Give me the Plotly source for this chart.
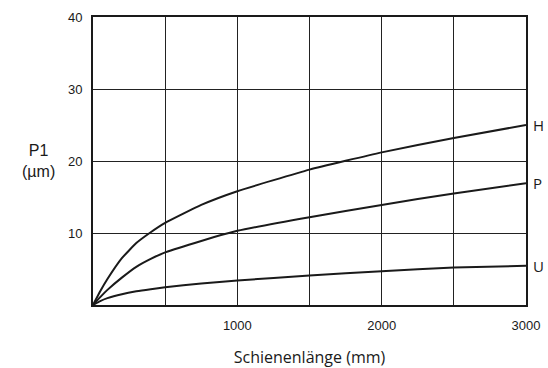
import plotly.graph_objects as go

x_mm = [0, 50, 100, 200, 300, 400, 500, 750, 1000, 1500, 2000, 2500, 3000]
h_vals = [0, 1.9, 3.6, 6.5, 8.6, 10.1, 11.4, 13.9, 15.8, 18.8, 21.2, 23.2, 25.0]
p_vals = [0, 1.1, 2.1, 3.8, 5.3, 6.4, 7.3, 8.9, 10.3, 12.2, 13.9, 15.5, 16.9]
u_vals = [0, 0.55, 0.95, 1.5, 1.9, 2.2, 2.46, 3.0, 3.4, 4.1, 4.7, 5.2, 5.45]
series_names = ["H", "P", "U"]

x_grid = [500, 1000, 1500, 2000, 2500, 3000]
x_ticktext = ["", "1000", "", "2000", "", "3000"]
y_grid = [10, 20, 30, 40]
y_ticktext = ["10", "20", "30", "40"]

line_col = "#1a1a1a"
fig = go.Figure()
for name, vals in zip(series_names, [h_vals, p_vals, u_vals]):
    fig.add_trace(go.Scatter(x=x_mm, y=vals, mode="lines", name=name,
                             line=dict(color=line_col, width=2, shape="spline", smoothing=0.4),
                             showlegend=False, hoverinfo="skip"))
    fig.add_annotation(x=x_mm[-1], y=vals[-1], text=name, showarrow=False,
                       xanchor="left", xshift=5, yanchor="middle",
                       font=dict(family="Open Sans, Liberation Sans, sans-serif", size=15, color="#1a1a1a"))

fig.add_annotation(xref="paper", yref="paper", x=-0.125, y=0.5, text="P1<br>(µm)",
                   showarrow=False, xanchor="center", yanchor="middle",
                   font=dict(family="Liberation Sans, Arial, sans-serif", size=16, color="#1a1a1a"))

fig.update_layout(
    width=548, height=368,
    margin=dict(l=93, r=22, t=17, b=63),
    paper_bgcolor="white", plot_bgcolor="white",
    font=dict(family="Liberation Sans, Arial, sans-serif", size=13, color="#1a1a1a"),
    xaxis=dict(range=[0, 3000], tickvals=x_grid, ticktext=x_ticktext, ticks="",
               showgrid=True, gridcolor="#222222", gridwidth=1, zeroline=False,
               showline=True, linecolor="#1a1a1a", linewidth=2, mirror=True,
               ticklabelstandoff=7, automargin=False,
               title=dict(text="Schienenlänge (mm)", standoff=20,
                          font=dict(family="Open Sans, Liberation Sans, sans-serif", size=16))),
    yaxis=dict(range=[0, 40], tickvals=y_grid, ticktext=y_ticktext, ticks="",
               showgrid=True, gridcolor="#222222", gridwidth=1, zeroline=False,
               showline=True, linecolor="#1a1a1a", linewidth=2, mirror=True,
               ticklabelstandoff=6, automargin=False),
)

fig.write_html("out.html", config={"displayModeBar": False},
               post_script="document.body.style.margin='0';document.body.style.padding='0';")
